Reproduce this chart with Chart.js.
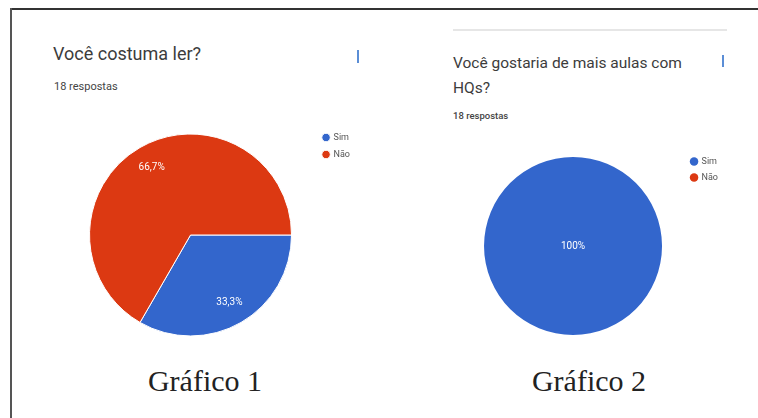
<!DOCTYPE html>
<html>
<head>
<meta charset="utf-8">
<script src="https://cdn.jsdelivr.net/npm/chart.js@4"></script>
<style>
  html, body { margin: 0; padding: 0; background: #fff; }
  body { width: 758px; height: 418px; position: relative; overflow: hidden; font-family: Roboto, sans-serif; }
  .frame-top { position: absolute; left: 10px; top: 8px; width: 748px; height: 2px; background: #333; }
  .frame-left { position: absolute; left: 10px; top: 8px; width: 2px; height: 410px; background: #555; }
  .txt { position: absolute; white-space: nowrap; }
  .title { color: #3c3c3c; }
  .sub { color: #444; }
  .icon { position: absolute; width: 2px; background: #5b8ed6; }
  .rule { position: absolute; left: 453px; top: 29px; width: 274px; height: 2px; background: #e6e6e6; }
  .caption { position: absolute; font-family: "Liberation Serif", serif; font-size: 30px; color: #222; text-align: center; width: 200px; }
  .box { position: absolute; }
</style>
</head>
<body>
<div class="frame-top"></div>
<div class="frame-left"></div>

<div class="txt title" style="left:53px; top:43px; font-size:18px;">Você costuma ler?</div>
<div class="txt sub" style="left:54px; top:80px; font-size:11px;">18 respostas</div>
<div class="icon" style="left:357px; top:50px; height:13px;"></div>

<div class="rule"></div>
<div class="txt title" style="left:453px; top:51px; font-size:15.5px; line-height:25px;">Você gostaria de mais aulas com<br>HQs?</div>
<div class="txt sub" style="left:453px; top:110px; font-size:9.5px; font-weight:500;">18 respostas</div>
<div class="icon" style="left:722px; top:55px; height:12px;"></div>

<div class="box" style="left:66px; top:125px; width:294px; height:220px;"><canvas id="c1"></canvas></div>
<div class="box" style="left:462px; top:150px; width:266px; height:192px;"><canvas id="c2"></canvas></div>

<div class="caption" style="left:105px; top:364px;">Gráfico 1</div>
<div class="caption" style="left:489px; top:364px;">Gráfico 2</div>

<script>
const categories = ["Sim", "Não"];
const colors = ["#3366cc", "#dc3912"];
const chart1Values = [6, 12];   // Você costuma ler? (18 respostas)
const chart2Values = [18, 0];   // Você gostaria de mais aulas com HQs? (18 respostas)

// percentage labels drawn inside the slices, like google forms
const sliceLabels = {
  id: "sliceLabels",
  afterDatasetsDraw(chart) {
    const ctx = chart.ctx;
    const ds = chart.data.datasets[0];
    const total = ds.data.reduce((a, b) => a + b, 0);
    const meta = chart.getDatasetMeta(0);
    ctx.save();
    ctx.fillStyle = "#fff";
    ctx.font = "10px Roboto, sans-serif";
    ctx.textAlign = "center";
    ctx.textBaseline = "middle";
    meta.data.forEach((arc, i) => {
      const v = ds.data[i];
      if (!v) return;
      const frac = v / total;
      const pct = (Math.round(frac * 1000) / 10).toString().replace(".", ",") + "%";
      let x = arc.x, y = arc.y;
      if (frac < 1) {
        const mid = (arc.startAngle + arc.endAngle) / 2;
        x = arc.x + Math.cos(mid) * arc.outerRadius * 0.77;
        y = arc.y + Math.sin(mid) * arc.outerRadius * 0.77;
      }
      ctx.fillText(pct, x, y);
    });
    ctx.restore();
  },
};

function makePie(id, values, radius, pad, border) {
  return new Chart(document.getElementById(id), {
    type: "pie",
    data: {
      labels: categories,
      datasets: [{
        data: values,
        backgroundColor: colors,
        borderColor: "#fff",
        borderWidth: border,
        radius: radius,
      }],
    },
    options: {
      responsive: true,
      maintainAspectRatio: false,
      animation: false,
      rotation: 90,
      layout: { padding: 0 },
      plugins: {
        legend: {
          position: "right",
          align: "start",
          labels: {
            usePointStyle: true,
            pointStyle: "circle",
            boxWidth: 6,
            boxHeight: 6,
            padding: pad,
            color: "#555",
            font: { size: 9, family: "Roboto, sans-serif" },
          },
        },
        tooltip: { enabled: false },
      },
    },
    plugins: [sliceLabels],
  });
}

makePie("c1", chart1Values, 101, 8, 1);
makePie("c2", chart2Values, 89, 7, 0);
</script>
</body>
</html>
